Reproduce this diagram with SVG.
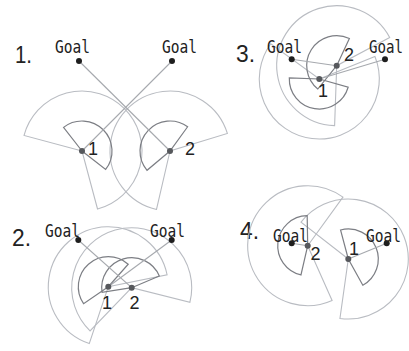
<svg xmlns="http://www.w3.org/2000/svg" width="409" height="351" viewBox="0 0 409 351">
<style>
.big{fill:none;stroke:#b9bcc2;stroke-width:1.1}
.small{fill:none;stroke:#7c7e84;stroke-width:1.2}
.link{stroke:#a6a9ae;stroke-width:1.1;fill:none}
.robot{fill:#56585c}
.goal{fill:#1e1e1e}
.num{font-family:"Liberation Sans",Arial,sans-serif;font-size:24px;fill:#222}
.lbl{font-family:"Liberation Sans",Arial,sans-serif;font-size:18px;fill:#222}
.gl{font-family:"DejaVu Sans Mono","Liberation Mono",monospace;font-size:18px;fill:#222}
</style>
<rect width="409" height="351" fill="#fff"/>

<!-- Panel 1 -->
<g id="panel1">
  <text class="num" x="15" y="63" textLength="17" lengthAdjust="spacingAndGlyphs">1.</text>
  <g id="p1-sectors">
    <path class="big" d="M82,151 L24.04,135.47 A60,60 0 1 1 97.53,208.96 Z"/>
    <path class="big" d="M170,151 L156.5,209.46 A60,60 0 1 1 227.38,133.46 Z"/>
    <path class="small" d="M82,151 L63.53,127.36 A30,30 0 0 1 105.64,169.47 Z"/>
    <path class="small" d="M170,151 L147.02,170.28 A30,30 0 0 1 187.63,126.73 Z"/>
  </g>
  <g id="p1-connectors">
    <line class="link" x1="79" y1="61" x2="170" y2="151"/>
    <line class="link" x1="172" y1="61" x2="82" y2="151"/>
  </g>
  <g id="p1-goal-left"><circle class="goal" cx="79" cy="61" r="3"/><text class="gl" x="55" y="53" textLength="35" lengthAdjust="spacingAndGlyphs">Goal</text></g>
  <g id="p1-goal-right"><circle class="goal" cx="172" cy="61" r="3"/><text class="gl" x="162" y="53" textLength="35" lengthAdjust="spacingAndGlyphs">Goal</text></g>
  <g id="p1-robot1"><circle class="robot" cx="82" cy="151" r="3"/><text class="lbl" x="88" y="155">1</text></g>
  <g id="p1-robot2"><circle class="robot" cx="170" cy="151" r="3"/><text class="lbl" x="185" y="155">2</text></g>
</g>

<!-- Panel 3 -->
<g id="panel3">
  <text class="num" x="236" y="62" textLength="19" lengthAdjust="spacingAndGlyphs">3.</text>
  <g id="p3-sectors">
    <path class="big" d="M319.3,79 L374.93,56.52 A60,60 0 1 1 270.76,43.73 Z"/>
    <path class="big" d="M336.7,65.7 L334.61,125.66 A60,60 0 1 1 389.68,37.53 Z"/>
    <path class="small" d="M319.3,79 L348.14,87.27 A30,30 0 0 1 289.32,77.95 Z"/>
    <path class="small" d="M336.7,65.7 L317.82,89.01 A30,30 0 0 1 349.38,38.51 Z"/>
  </g>
  <g id="p3-connectors">
    <line class="link" x1="291.7" y1="59.3" x2="336.7" y2="65.7"/>
    <line class="link" x1="385" y1="59.3" x2="319.3" y2="79"/>
  </g>
  <g id="p3-goal-left"><circle class="goal" cx="291.7" cy="59.3" r="3"/><text class="gl" x="267" y="53" textLength="35" lengthAdjust="spacingAndGlyphs">Goal</text></g>
  <g id="p3-goal-right"><circle class="goal" cx="385" cy="59.3" r="3"/><text class="gl" x="369" y="53" textLength="34" lengthAdjust="spacingAndGlyphs">Goal</text></g>
  <g id="p3-robot1"><circle class="robot" cx="319.3" cy="79" r="3"/><text class="lbl" x="318" y="96.5">1</text></g>
  <g id="p3-robot2"><circle class="robot" cx="336.7" cy="65.7" r="3"/><text class="lbl" x="344" y="61">2</text></g>
</g>

<!-- Panel 2 -->
<g id="panel2">
  <text class="num" x="12" y="246" textLength="19" lengthAdjust="spacingAndGlyphs">2.</text>
  <g id="p2-sectors">
    <path class="big" d="M108.3,286.7 L89.26,343.6 A60,60 0 1 1 167.09,274.74 Z"/>
    <path class="big" d="M131.7,287.7 L90.02,330.86 A60,60 0 1 1 189.92,302.21 Z"/>
    <path class="small" d="M108.3,286.7 L83.58,303.69 A30,30 0 0 1 128.18,264.23 Z"/>
    <path class="small" d="M131.7,287.7 L102.07,292.39 A30,30 0 0 1 159.32,275.98 Z"/>
  </g>
  <g id="p2-connectors">
    <line class="link" x1="78.3" y1="240" x2="131.7" y2="287.7"/>
    <line class="link" x1="171.7" y1="240" x2="108.3" y2="286.7"/>
  </g>
  <g id="p2-goal-left"><circle class="goal" cx="78.3" cy="240" r="3"/><text class="gl" x="45" y="236.5" textLength="35" lengthAdjust="spacingAndGlyphs">Goal</text></g>
  <g id="p2-goal-right"><circle class="goal" cx="171.7" cy="240" r="3"/><text class="gl" x="150" y="236.5" textLength="35" lengthAdjust="spacingAndGlyphs">Goal</text></g>
  <g id="p2-robot1"><circle class="robot" cx="108.3" cy="286.7" r="3"/><text class="lbl" x="102" y="309">1</text></g>
  <g id="p2-robot2"><circle class="robot" cx="131.7" cy="287.7" r="3"/><text class="lbl" x="129.5" y="309">2</text></g>
</g>

<!-- Panel 4 -->
<g id="panel4">
  <text class="num" x="240" y="239" textLength="19" lengthAdjust="spacingAndGlyphs">4.</text>
  <g id="p4-sectors">
    <path class="big" d="M348.3,259 L301.02,222.06 A60,60 0 1 1 339.95,318.42 Z"/>
    <path class="big" d="M307.7,245.7 L332.1,300.51 A60,60 0 1 1 342.97,197.16 Z"/>
    <path class="small" d="M348.3,259 L340.54,230.02 A30,30 0 0 1 362.84,285.24 Z"/>
    <path class="small" d="M307.7,245.7 L300.95,274.93 A30,30 0 0 1 307.18,215.71 Z"/>
  </g>
  <g id="p4-connectors">
    <line class="link" x1="291.7" y1="243.3" x2="307.7" y2="245.7"/>
    <line class="link" x1="386.7" y1="243.3" x2="348.3" y2="259"/>
  </g>
  <g id="p4-goal-left"><circle class="goal" cx="291.7" cy="243.3" r="3"/><text class="gl" x="273" y="241.5" textLength="35" lengthAdjust="spacingAndGlyphs">Goal</text></g>
  <g id="p4-goal-right"><circle class="goal" cx="386.7" cy="243.3" r="3"/><text class="gl" x="366" y="241.5" textLength="35" lengthAdjust="spacingAndGlyphs">Goal</text></g>
  <g id="p4-robot1"><circle class="robot" cx="348.3" cy="259" r="3"/><text class="lbl" x="349" y="255">1</text></g>
  <g id="p4-robot2"><circle class="robot" cx="307.7" cy="245.7" r="3"/><text class="lbl" x="310.5" y="260">2</text></g>
</g>
</svg>
